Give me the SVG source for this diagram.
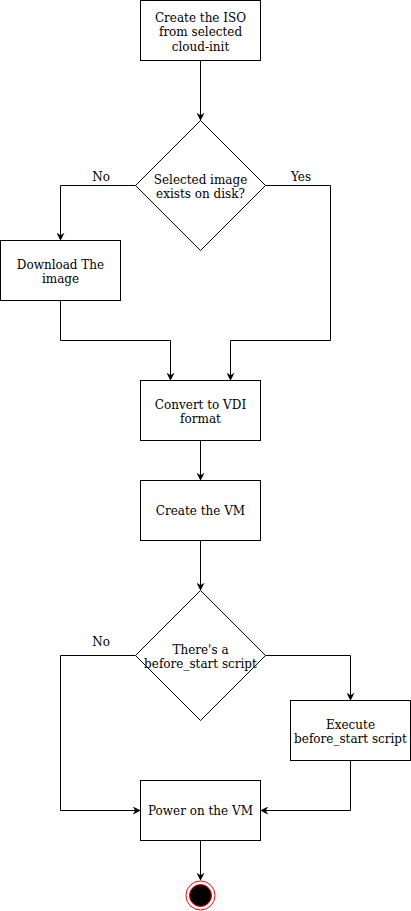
<svg xmlns="http://www.w3.org/2000/svg" width="411" height="911" viewBox="0 0 411 911">
<style>
.n{fill:#fff;stroke:#000;stroke-width:1}
.t{font-family:"DejaVu Serif",serif;font-size:12px;fill:#000;text-anchor:middle}
.c{fill:none;stroke:#000;stroke-width:1}
</style>
<defs>
<marker id="a" viewBox="0 0 10 10" refX="9" refY="5" markerWidth="8" markerHeight="8" markerUnits="userSpaceOnUse" orient="auto">
<path d="M0,0 L10,5 L0,10 L3,5 Z" fill="#000"/>
</marker>
</defs>
<rect width="411" height="911" fill="#fff"/>
<g id="connectors">
<path class="c" d="M200.5,60.5 V120" marker-end="url(#a)"/>
<path class="c" d="M135,185.5 H60.5 V240" marker-end="url(#a)"/>
<path class="c" d="M265,185.5 H330.5 V340.5 H230.5 V380" marker-end="url(#a)"/>
<path class="c" d="M60.5,300.5 V340.5 H170.5 V380" marker-end="url(#a)"/>
<path class="c" d="M200.5,440.5 V480" marker-end="url(#a)"/>
<path class="c" d="M200.5,540.5 V590" marker-end="url(#a)"/>
<path class="c" d="M135,655.5 H60.5 V810.5 H140" marker-end="url(#a)"/>
<path class="c" d="M265,655.5 H350.5 V700" marker-end="url(#a)"/>
<path class="c" d="M350.5,760.5 V810.5 H261" marker-end="url(#a)"/>
<path class="c" d="M200.5,840.5 V880" marker-end="url(#a)"/>
<text class="t" x="101" y="181">No</text>
<text class="t" x="301" y="181">Yes</text>
<text class="t" x="101" y="646">No</text>
</g>
<g id="create-iso">
<rect class="n" x="140.5" y="0.5" width="120" height="60"/>
<text class="t" x="200.5" y="22">Create the ISO</text>
<text class="t" x="200.5" y="36">from selected</text>
<text class="t" x="200.5" y="51">cloud-init</text>
</g>
<g id="image-exists">
<path class="n" d="M200.5,120.5 L265.5,185.5 L200.5,250.5 L135.5,185.5 Z"/>
<text class="t" x="200.5" y="184">Selected image</text>
<text class="t" x="200.5" y="198">exists on disk?</text>
</g>
<g id="download">
<rect class="n" x="0.5" y="240.5" width="120" height="60"/>
<text class="t" x="60.5" y="269">Download The</text>
<text class="t" x="60.5" y="283">image</text>
</g>
<g id="convert">
<rect class="n" x="140.5" y="380.5" width="120" height="60"/>
<text class="t" x="200.5" y="409">Convert to VDI</text>
<text class="t" x="200.5" y="423">format</text>
</g>
<g id="create-vm">
<rect class="n" x="140.5" y="480.5" width="120" height="60"/>
<text class="t" x="200.5" y="515">Create the VM</text>
</g>
<g id="before-start">
<path class="n" d="M200.5,590.5 L265.5,655.5 L200.5,720.5 L135.5,655.5 Z"/>
<text class="t" x="200.5" y="654">There's a</text>
<text class="t" x="200.5" y="668">before_start script</text>
</g>
<g id="execute">
<rect class="n" x="290.5" y="700.5" width="120" height="60"/>
<text class="t" x="350.5" y="729">Execute</text>
<text class="t" x="350.5" y="743">before_start script</text>
</g>
<g id="power-on">
<rect class="n" x="140.5" y="780.5" width="120" height="60"/>
<text class="t" x="200.5" y="815">Power on the VM</text>
</g>
<g id="end">
<circle cx="200.5" cy="895.5" r="14.5" fill="#fff" stroke="#f00" stroke-width="1"/>
<circle cx="200.5" cy="895.5" r="11" fill="#000" stroke="#f00" stroke-width="1"/>
</g>
</svg>
